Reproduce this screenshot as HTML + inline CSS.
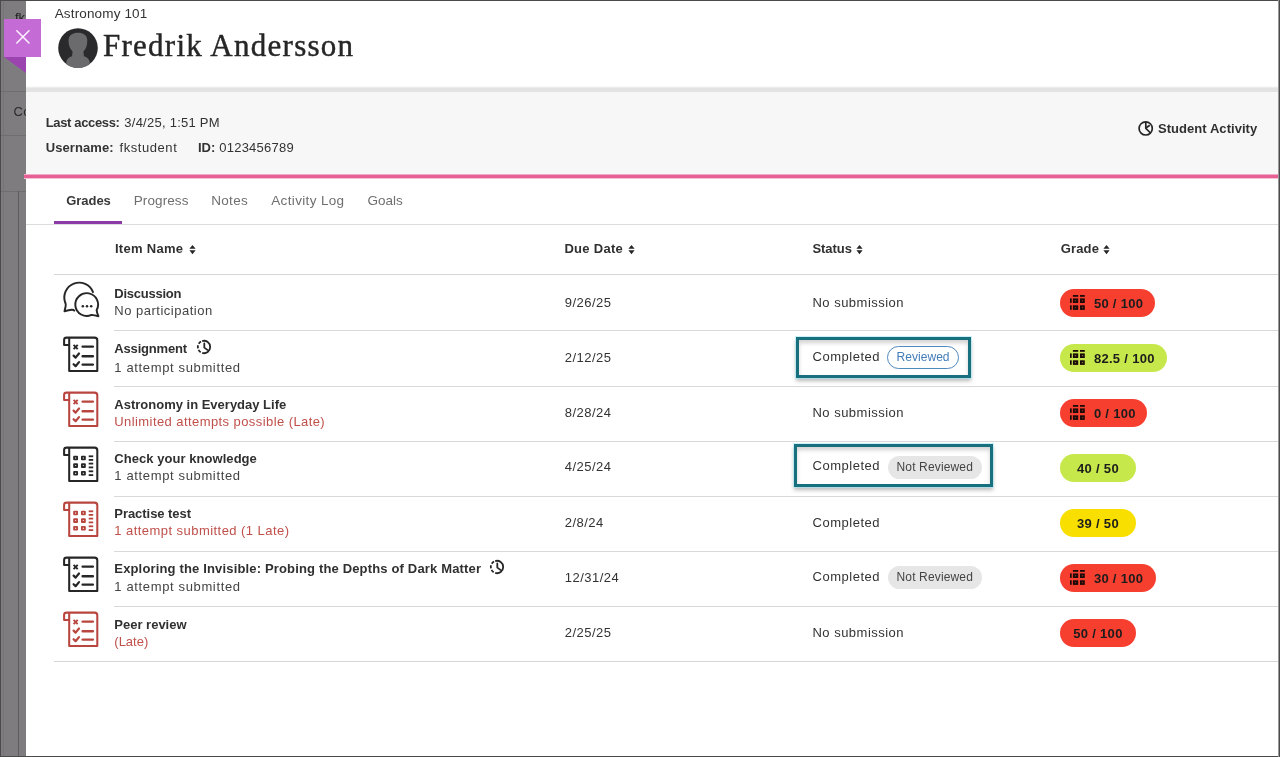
<!DOCTYPE html>
<html><head><meta charset="utf-8"><title>Grades</title>
<style>
html,body{margin:0;padding:0;}
body{width:1280px;height:757px;position:relative;overflow:hidden;background:#fff;font-family:'Liberation Sans', sans-serif;}
.t{position:absolute;white-space:nowrap;}
#w{position:absolute;left:0;top:0;width:1280px;height:757px;will-change:transform;}
</style></head><body><div id="w">
<div style="position:absolute;left:0;top:0;width:26px;height:757px;background:#7f7c80"></div>
<div style="position:absolute;left:3px;top:0;width:1px;height:757px;background:#777478"></div>
<div style="position:absolute;left:0;top:91px;width:26px;height:1px;background:#6e6e6e"></div>
<div style="position:absolute;left:0;top:135px;width:26px;height:1px;background:#6e6e6e"></div>
<div style="position:absolute;left:0;top:191px;width:26px;height:1px;background:#6e6e6e"></div>
<div style="position:absolute;left:18px;top:191px;width:1px;height:566px;background:#5c5c5c"></div>
<div class="t" style="left:15.00px;top:11.00px;font-size:13px;line-height:13px;font-weight:normal;color:#1e1e1e;letter-spacing:0px;font-family:'Liberation Sans', sans-serif;">fk</div>
<div class="t" style="left:13.50px;top:105.00px;font-size:13px;line-height:13px;font-weight:normal;color:#2a2a2a;letter-spacing:0.3px;font-family:'Liberation Sans', sans-serif;">Co</div>
<div style="position:absolute;left:26px;top:0;width:1254px;height:757px;background:#fff"></div>
<div style="position:absolute;left:26px;top:86px;width:1254px;height:1px;background:#fafafa"></div>
<div style="position:absolute;left:26px;top:87px;width:1254px;height:1px;background:#ececec"></div>
<div style="position:absolute;left:26px;top:88px;width:1254px;height:4px;background:#e3e3e3"></div>
<div style="position:absolute;left:26px;top:92px;width:1254px;height:83px;background:#f7f7f7"></div>
<div style="position:absolute;left:24px;top:174px;width:1256px;height:1px;background:#f2a9c6"></div>
<div style="position:absolute;left:24px;top:175px;width:1256px;height:3px;background:#e76093"></div>
<div style="position:absolute;left:24px;top:178px;width:1256px;height:1px;background:#f4c3d6"></div>
<div class="t" style="left:54.70px;top:7.07px;font-size:13.5px;line-height:13.5px;font-weight:normal;color:#333;letter-spacing:0.15px;font-family:'Liberation Sans', sans-serif;">Astronomy 101</div>
<svg style="position:absolute;left:58px;top:28px" width="40" height="40" viewBox="0 0 40 40">
<circle cx="20" cy="20" r="19.8" fill="#2a292b"/>
<clipPath id="av"><circle cx="20" cy="20" r="20"/></clipPath>
<g clip-path="url(#av)" fill="#6b6a6c">
<path d="M14.6 23.5 C11.5 20.5 10.2 16 10.6 11.5 C11.2 7 14.8 4.8 20 4.8 C25.2 4.8 28.6 7 29.2 11.5 C29.6 16 28.4 20.5 25.4 23.5 L26 28.2 C29 29.2 31 30.8 31.6 33.5 L31.6 42 L8.4 42 L8.4 33.5 C9 30.8 11 29.2 14 28.2 Z"/>
</g></svg>
<div class="t" style="left:102.90px;top:29.64px;font-size:31px;line-height:31px;font-weight:normal;color:#262626;letter-spacing:1.27px;font-family:'Liberation Serif', serif;-webkit-text-stroke:0.45px #262626;">Fredrik Andersson</div>
<div class="t" style="left:45.70px;top:115.70px;font-size:13px;line-height:13px;font-weight:bold;color:#333;letter-spacing:-0.35px;font-family:'Liberation Sans', sans-serif;">Last access:</div>
<div class="t" style="left:124.30px;top:115.70px;font-size:13px;line-height:13px;font-weight:normal;color:#333;letter-spacing:0.25px;font-family:'Liberation Sans', sans-serif;">3/4/25, 1:51 PM</div>
<div class="t" style="left:45.70px;top:140.60px;font-size:13px;line-height:13px;font-weight:bold;color:#333;letter-spacing:0.1px;font-family:'Liberation Sans', sans-serif;">Username:</div>
<div class="t" style="left:119.60px;top:140.60px;font-size:13px;line-height:13px;font-weight:normal;color:#333;letter-spacing:0.55px;font-family:'Liberation Sans', sans-serif;">fkstudent</div>
<div class="t" style="left:198.00px;top:140.60px;font-size:13px;line-height:13px;font-weight:bold;color:#333;letter-spacing:0px;font-family:'Liberation Sans', sans-serif;">ID:</div>
<div class="t" style="left:219.20px;top:140.60px;font-size:13px;line-height:13px;font-weight:normal;color:#333;letter-spacing:0.25px;font-family:'Liberation Sans', sans-serif;">0123456789</div>
<svg style="position:absolute;left:1136px;top:119px" width="20" height="20" viewBox="1136 119 20 20" fill="none" stroke="#262626" stroke-width="1.7">
<circle cx="1145.7" cy="128.4" r="6.6"/>
<path d="M1145.8 121.8 V128.3 L1150.6 133" stroke-linejoin="round"/>
<path d="M1145.8 128 L1149.8 125.2"/>
</svg>
<div class="t" style="left:1158.00px;top:122.40px;font-size:13px;line-height:13px;font-weight:bold;color:#303030;letter-spacing:0.05px;font-family:'Liberation Sans', sans-serif;">Student Activity</div>
<div class="t" style="left:66.25px;top:194.40px;font-size:13px;line-height:13px;font-weight:bold;color:#383838;letter-spacing:-0.05px;font-family:'Liberation Sans', sans-serif;">Grades</div>
<div class="t" style="left:133.75px;top:193.97px;font-size:13.5px;line-height:13.5px;font-weight:normal;color:#6f6f6f;letter-spacing:0.1px;font-family:'Liberation Sans', sans-serif;">Progress</div>
<div class="t" style="left:211.25px;top:193.97px;font-size:13.5px;line-height:13.5px;font-weight:normal;color:#6f6f6f;letter-spacing:0.3px;font-family:'Liberation Sans', sans-serif;">Notes</div>
<div class="t" style="left:271.25px;top:193.97px;font-size:13.5px;line-height:13.5px;font-weight:normal;color:#6f6f6f;letter-spacing:0.35px;font-family:'Liberation Sans', sans-serif;">Activity Log</div>
<div class="t" style="left:367.50px;top:193.97px;font-size:13.5px;line-height:13.5px;font-weight:normal;color:#6f6f6f;letter-spacing:0.0px;font-family:'Liberation Sans', sans-serif;">Goals</div>
<div style="position:absolute;left:26px;top:224px;width:1253px;height:1px;background:#dcdcdc"></div>
<div style="position:absolute;left:54px;top:221px;width:68px;height:3px;background:#8c3aa8"></div>
<div class="t" style="left:114.90px;top:242.30px;font-size:13px;line-height:13px;font-weight:bold;color:#303030;letter-spacing:0.3px;font-family:'Liberation Sans', sans-serif;">Item Name</div>
<svg style="position:absolute;left:188.6px;top:244.3px" width="8" height="11" viewBox="0 0 8 11"><path d="M0.4 4.8 L3.5 0.9 L6.6 4.8 Z M0.4 6.2 L3.5 10.2 L6.6 6.2 Z" fill="#262626"/></svg>
<div class="t" style="left:564.40px;top:242.30px;font-size:13px;line-height:13px;font-weight:bold;color:#303030;letter-spacing:0.3px;font-family:'Liberation Sans', sans-serif;">Due Date</div>
<svg style="position:absolute;left:627.5px;top:244.3px" width="8" height="11" viewBox="0 0 8 11"><path d="M0.4 4.8 L3.5 0.9 L6.6 4.8 Z M0.4 6.2 L3.5 10.2 L6.6 6.2 Z" fill="#262626"/></svg>
<div class="t" style="left:812.40px;top:242.30px;font-size:13px;line-height:13px;font-weight:bold;color:#303030;letter-spacing:-0.05px;font-family:'Liberation Sans', sans-serif;">Status</div>
<svg style="position:absolute;left:855.5px;top:244.3px" width="8" height="11" viewBox="0 0 8 11"><path d="M0.4 4.8 L3.5 0.9 L6.6 4.8 Z M0.4 6.2 L3.5 10.2 L6.6 6.2 Z" fill="#262626"/></svg>
<div class="t" style="left:1060.70px;top:242.30px;font-size:13px;line-height:13px;font-weight:bold;color:#303030;letter-spacing:0.15px;font-family:'Liberation Sans', sans-serif;">Grade</div>
<svg style="position:absolute;left:1102.6px;top:244.3px" width="8" height="11" viewBox="0 0 8 11"><path d="M0.4 4.8 L3.5 0.9 L6.6 4.8 Z M0.4 6.2 L3.5 10.2 L6.6 6.2 Z" fill="#262626"/></svg>
<div style="position:absolute;left:54px;top:274px;width:1225px;height:1px;background:#d6d6d6"></div>
<div style="position:absolute;left:114px;top:330px;width:1165px;height:1px;background:#d9d9d9"></div>
<div style="position:absolute;left:114px;top:386px;width:1165px;height:1px;background:#d9d9d9"></div>
<div style="position:absolute;left:114px;top:441px;width:1165px;height:1px;background:#d9d9d9"></div>
<div style="position:absolute;left:114px;top:496px;width:1165px;height:1px;background:#d9d9d9"></div>
<div style="position:absolute;left:114px;top:551px;width:1165px;height:1px;background:#d9d9d9"></div>
<div style="position:absolute;left:114px;top:606px;width:1165px;height:1px;background:#d9d9d9"></div>
<div style="position:absolute;left:54px;top:661px;width:1225px;height:1px;background:#d6d6d6"></div>
<svg style="position:absolute;left:58px;top:278px" width="46" height="46" viewBox="0 0 46 46" fill="none" stroke="#262626" stroke-width="1.95" stroke-linecap="round" stroke-linejoin="round"><path d="M35 14.2 A14.6 14.6 0 1 0 7.3 24.8 Q8.2 26.5 7.6 28.5 L6.5 33.2 Q11 32.2 13.6 31.8 Q15.4 31.6 16.3 32.6"/><path d="M38.6 32.2 A11.4 11.4 0 1 0 33.5 36.9 Q36.5 37.4 40.4 38.2 Q39 35.2 38.6 32.2 Z"/><circle cx="24.8" cy="28.3" r="1.25" fill="#262626" stroke="none"/><circle cx="29" cy="28.3" r="1.25" fill="#262626" stroke="none"/><circle cx="33.2" cy="28.3" r="1.25" fill="#262626" stroke="none"/></svg>
<div class="t" style="left:114.30px;top:287.20px;font-size:13px;line-height:13px;font-weight:bold;color:#303030;letter-spacing:-0.25px;font-family:'Liberation Sans', sans-serif;">Discussion</div>
<div class="t" style="left:114.30px;top:304.20px;font-size:13px;line-height:13px;font-weight:normal;color:#444;letter-spacing:0.5px;font-family:'Liberation Sans', sans-serif;">No participation</div>
<div class="t" style="left:564.70px;top:296.20px;font-size:13px;line-height:13px;font-weight:normal;color:#333;letter-spacing:0.5px;font-family:'Liberation Sans', sans-serif;">9/26/25</div>
<div class="t" style="left:812.50px;top:296.20px;font-size:13px;line-height:13px;font-weight:normal;color:#333;letter-spacing:0.48px;font-family:'Liberation Sans', sans-serif;">No submission</div>
<div style="position:absolute;left:1060px;top:289px;width:95px;height:28px;border-radius:14px;background:#f73f30"></div><svg style="position:absolute;left:1070.2px;top:295px" width="16" height="16" viewBox="0 0 16 16" fill="#1a0a08"><rect x="2.9" y="0" width="5.3" height="1.8"/><rect x="10" y="0" width="4.8" height="1.8"/><rect x="0" y="3.4" width="1.7" height="4.5"/><rect x="0" y="10.3" width="1.7" height="4.5"/><rect x="2.9" y="3.4" width="5.3" height="4.6"/><rect x="4.8" y="5.1" width="1.3" height="1.2" fill="#f73f30" opacity="0.55"/><rect x="10" y="3.4" width="4.8" height="4.6"/><rect x="11.9" y="5.1" width="1.3" height="1.2" fill="#f73f30" opacity="0.55"/><rect x="2.9" y="10.3" width="5.3" height="4.6"/><rect x="4.8" y="12.0" width="1.3" height="1.2" fill="#f73f30" opacity="0.55"/><rect x="10" y="10.3" width="4.8" height="4.6"/><rect x="11.9" y="12.0" width="1.3" height="1.2" fill="#f73f30" opacity="0.55"/></svg><div class="t" style="left:1093.90px;top:297.30px;font-size:13px;line-height:13px;font-weight:bold;color:#1c1c1c;letter-spacing:0.3px;font-family:'Liberation Sans', sans-serif;">50 / 100</div>
<svg style="position:absolute;left:58px;top:332px" width="46" height="46" viewBox="0 0 46 46" fill="none" stroke="#262626" stroke-width="2.05" stroke-linecap="round" stroke-linejoin="round"><path d="M11.2 5.8 V38.9 H39.3 V8.3 Q39.3 5.6 36.6 5.6 H8.6 Q6.1 5.6 6.1 8 V12.9 H11.2"/><path d="M15.6 12.9 L19.7 17.2 M19.7 12.9 L15.6 17.2" stroke-width="1.9" stroke-linecap="butt"/><path d="M15.6 23.6 L17.6 25.6 L21 21.5" stroke-width="2.2"/><path d="M15.6 32.2 L17.6 34.2 L21 30.1" stroke-width="2.2"/><path d="M24.6 14.6 H34.9 M24.6 24.2 H34.9 M24.6 32.6 H34.9" stroke-width="2.4"/></svg>
<div class="t" style="left:114.30px;top:341.90px;font-size:13px;line-height:13px;font-weight:bold;color:#303030;letter-spacing:-0.17px;font-family:'Liberation Sans', sans-serif;">Assignment</div>
<div class="t" style="left:114.30px;top:360.90px;font-size:13px;line-height:13px;font-weight:normal;color:#444;letter-spacing:0.64px;font-family:'Liberation Sans', sans-serif;">1 attempt submitted</div>
<svg style="position:absolute;left:195.0px;top:337.7px" width="18" height="18" viewBox="195.0 337.7 18 18" fill="none" stroke="#262626" stroke-width="1.8" stroke-linecap="butt"><path d="M202.19 340.77 A6.2 6.2 0 1 1 202.19 352.63 M200.71 351.96 A6.2 6.2 0 0 1 198.53 349.61 M197.96 348.09 A6.2 6.2 0 0 1 198.07 344.89 M198.74 343.41 A6.2 6.2 0 0 1 201.09 341.23"/><path d="M204.3 343.09999999999997 V347.3 L207.4 349.59999999999997" stroke-linecap="round" stroke-linejoin="round"/></svg>
<div class="t" style="left:564.70px;top:350.90px;font-size:13px;line-height:13px;font-weight:normal;color:#333;letter-spacing:0.5px;font-family:'Liberation Sans', sans-serif;">2/12/25</div>
<div class="t" style="left:812.50px;top:349.90px;font-size:13px;line-height:13px;font-weight:normal;color:#333;letter-spacing:0.52px;font-family:'Liberation Sans', sans-serif;">Completed</div>
<div style="position:absolute;left:796px;top:337px;width:169px;height:35px;border:3px solid #18707e;box-shadow:0 0 0 1px rgba(170,235,245,0.6),0 3px 4px rgba(0,0,0,0.28),inset 0 3px 4px rgba(0,0,0,0.18)"></div>
<div style="position:absolute;left:887px;top:346px;width:70px;height:21px;border:1px solid #5088c0;border-radius:12px;background:#fff"></div>
<div class="t" style="left:896.50px;top:351.34px;font-size:12px;line-height:12px;font-weight:normal;color:#417db8;letter-spacing:0.05px;font-family:'Liberation Sans', sans-serif;">Reviewed</div>
<div style="position:absolute;left:1060px;top:344px;width:107px;height:28px;border-radius:14px;background:#c6e84a"></div><svg style="position:absolute;left:1070.2px;top:350px" width="16" height="16" viewBox="0 0 16 16" fill="#1a0a08"><rect x="2.9" y="0" width="5.3" height="1.8"/><rect x="10" y="0" width="4.8" height="1.8"/><rect x="0" y="3.4" width="1.7" height="4.5"/><rect x="0" y="10.3" width="1.7" height="4.5"/><rect x="2.9" y="3.4" width="5.3" height="4.6"/><rect x="4.8" y="5.1" width="1.3" height="1.2" fill="#c6e84a" opacity="0.55"/><rect x="10" y="3.4" width="4.8" height="4.6"/><rect x="11.9" y="5.1" width="1.3" height="1.2" fill="#c6e84a" opacity="0.55"/><rect x="2.9" y="10.3" width="5.3" height="4.6"/><rect x="4.8" y="12.0" width="1.3" height="1.2" fill="#c6e84a" opacity="0.55"/><rect x="10" y="10.3" width="4.8" height="4.6"/><rect x="11.9" y="12.0" width="1.3" height="1.2" fill="#c6e84a" opacity="0.55"/></svg><div class="t" style="left:1093.90px;top:352.30px;font-size:13px;line-height:13px;font-weight:bold;color:#1c1c1c;letter-spacing:0.3px;font-family:'Liberation Sans', sans-serif;">82.5 / 100</div>
<svg style="position:absolute;left:58px;top:387px" width="46" height="46" viewBox="0 0 46 46" fill="none" stroke="#b8463f" stroke-width="2.05" stroke-linecap="round" stroke-linejoin="round"><path d="M11.2 5.8 V38.9 H39.3 V8.3 Q39.3 5.6 36.6 5.6 H8.6 Q6.1 5.6 6.1 8 V12.9 H11.2"/><path d="M15.6 12.9 L19.7 17.2 M19.7 12.9 L15.6 17.2" stroke-width="1.9" stroke-linecap="butt"/><path d="M15.6 23.6 L17.6 25.6 L21 21.5" stroke-width="2.2"/><path d="M15.6 32.2 L17.6 34.2 L21 30.1" stroke-width="2.2"/><path d="M24.6 14.6 H34.9 M24.6 24.2 H34.9 M24.6 32.6 H34.9" stroke-width="2.4"/></svg>
<div class="t" style="left:114.30px;top:397.60px;font-size:13px;line-height:13px;font-weight:bold;color:#303030;letter-spacing:0.0px;font-family:'Liberation Sans', sans-serif;">Astronomy in Everyday Life</div>
<div class="t" style="left:114.30px;top:414.70px;font-size:13px;line-height:13px;font-weight:normal;color:#c0504b;letter-spacing:0.42px;font-family:'Liberation Sans', sans-serif;">Unlimited attempts possible (Late)</div>
<div class="t" style="left:564.70px;top:405.60px;font-size:13px;line-height:13px;font-weight:normal;color:#333;letter-spacing:0.5px;font-family:'Liberation Sans', sans-serif;">8/28/24</div>
<div class="t" style="left:812.50px;top:405.60px;font-size:13px;line-height:13px;font-weight:normal;color:#333;letter-spacing:0.48px;font-family:'Liberation Sans', sans-serif;">No submission</div>
<div style="position:absolute;left:1060px;top:399px;width:87px;height:28px;border-radius:14px;background:#f73f30"></div><svg style="position:absolute;left:1070.2px;top:405px" width="16" height="16" viewBox="0 0 16 16" fill="#1a0a08"><rect x="2.9" y="0" width="5.3" height="1.8"/><rect x="10" y="0" width="4.8" height="1.8"/><rect x="0" y="3.4" width="1.7" height="4.5"/><rect x="0" y="10.3" width="1.7" height="4.5"/><rect x="2.9" y="3.4" width="5.3" height="4.6"/><rect x="4.8" y="5.1" width="1.3" height="1.2" fill="#f73f30" opacity="0.55"/><rect x="10" y="3.4" width="4.8" height="4.6"/><rect x="11.9" y="5.1" width="1.3" height="1.2" fill="#f73f30" opacity="0.55"/><rect x="2.9" y="10.3" width="5.3" height="4.6"/><rect x="4.8" y="12.0" width="1.3" height="1.2" fill="#f73f30" opacity="0.55"/><rect x="10" y="10.3" width="4.8" height="4.6"/><rect x="11.9" y="12.0" width="1.3" height="1.2" fill="#f73f30" opacity="0.55"/></svg><div class="t" style="left:1093.90px;top:407.30px;font-size:13px;line-height:13px;font-weight:bold;color:#1c1c1c;letter-spacing:0.3px;font-family:'Liberation Sans', sans-serif;">0 / 100</div>
<svg style="position:absolute;left:58px;top:442px" width="46" height="46" viewBox="0 0 46 46" fill="none" stroke="#262626" stroke-width="2.05" stroke-linecap="round" stroke-linejoin="round"><path d="M11.2 5.8 V38.9 H39.3 V8.3 Q39.3 5.6 36.6 5.6 H8.6 Q6.1 5.6 6.1 8 V12.9 H11.2"/><rect x="16.1" y="14.6" width="3.0" height="2.8" rx="0.1" stroke-width="1.85"/><rect x="16.1" y="22.2" width="3.0" height="2.8" rx="0.1" stroke-width="1.85"/><rect x="16.1" y="29.8" width="3.0" height="2.8" rx="0.1" stroke-width="1.85"/><rect x="23.9" y="14.6" width="3.0" height="2.8" rx="0.1" stroke-width="1.85"/><rect x="23.9" y="22.2" width="3.0" height="2.8" rx="0.1" stroke-width="1.85"/><rect x="23.9" y="29.8" width="3.0" height="2.8" rx="0.1" stroke-width="1.85"/><path d="M30.7 14.3 H35.2" stroke-width="1.8" stroke-linecap="butt"/><path d="M30.7 17.9 H35.2" stroke-width="1.8" stroke-linecap="butt"/><path d="M30.7 21.6 H35.2" stroke-width="1.8" stroke-linecap="butt"/><path d="M30.7 25.4 H35.2" stroke-width="1.8" stroke-linecap="butt"/><path d="M30.7 29.3 H35.2" stroke-width="1.8" stroke-linecap="butt"/><path d="M30.7 33.1 H35.2" stroke-width="1.8" stroke-linecap="butt"/></svg>
<div class="t" style="left:114.30px;top:451.80px;font-size:13px;line-height:13px;font-weight:bold;color:#303030;letter-spacing:0.05px;font-family:'Liberation Sans', sans-serif;">Check your knowledge</div>
<div class="t" style="left:114.30px;top:469.00px;font-size:13px;line-height:13px;font-weight:normal;color:#444;letter-spacing:0.64px;font-family:'Liberation Sans', sans-serif;">1 attempt submitted</div>
<div class="t" style="left:564.70px;top:460.30px;font-size:13px;line-height:13px;font-weight:normal;color:#333;letter-spacing:0.5px;font-family:'Liberation Sans', sans-serif;">4/25/24</div>
<div class="t" style="left:812.50px;top:459.30px;font-size:13px;line-height:13px;font-weight:normal;color:#333;letter-spacing:0.52px;font-family:'Liberation Sans', sans-serif;">Completed</div>
<div style="position:absolute;left:793.5px;top:444px;width:193px;height:37px;border:3px solid #18707e;box-shadow:0 0 0 1px rgba(170,235,245,0.6),0 3px 4px rgba(0,0,0,0.28),inset 0 3px 4px rgba(0,0,0,0.18)"></div>
<div style="position:absolute;left:888px;top:456px;width:94px;height:23px;border-radius:12px;background:#e6e6e6"></div>
<div class="t" style="left:896.50px;top:461.14px;font-size:12px;line-height:12px;font-weight:normal;color:#444;letter-spacing:0.15px;font-family:'Liberation Sans', sans-serif;">Not Reviewed</div>
<div style="position:absolute;left:1060px;top:454px;width:76px;height:28px;border-radius:14px;background:#c6e84a"></div><div class="t" style="left:1060px;width:76px;text-align:center;top:462.30px;font-size:13px;line-height:13px;font-weight:bold;color:#1c1c1c;letter-spacing:0.3px">40 / 50</div>
<svg style="position:absolute;left:58px;top:497px" width="46" height="46" viewBox="0 0 46 46" fill="none" stroke="#b8463f" stroke-width="2.05" stroke-linecap="round" stroke-linejoin="round"><path d="M11.2 5.8 V38.9 H39.3 V8.3 Q39.3 5.6 36.6 5.6 H8.6 Q6.1 5.6 6.1 8 V12.9 H11.2"/><rect x="16.1" y="14.6" width="3.0" height="2.8" rx="0.1" stroke-width="1.85"/><rect x="16.1" y="22.2" width="3.0" height="2.8" rx="0.1" stroke-width="1.85"/><rect x="16.1" y="29.8" width="3.0" height="2.8" rx="0.1" stroke-width="1.85"/><rect x="23.9" y="14.6" width="3.0" height="2.8" rx="0.1" stroke-width="1.85"/><rect x="23.9" y="22.2" width="3.0" height="2.8" rx="0.1" stroke-width="1.85"/><rect x="23.9" y="29.8" width="3.0" height="2.8" rx="0.1" stroke-width="1.85"/><path d="M30.7 14.3 H35.2" stroke-width="1.8" stroke-linecap="butt"/><path d="M30.7 17.9 H35.2" stroke-width="1.8" stroke-linecap="butt"/><path d="M30.7 21.6 H35.2" stroke-width="1.8" stroke-linecap="butt"/><path d="M30.7 25.4 H35.2" stroke-width="1.8" stroke-linecap="butt"/><path d="M30.7 29.3 H35.2" stroke-width="1.8" stroke-linecap="butt"/><path d="M30.7 33.1 H35.2" stroke-width="1.8" stroke-linecap="butt"/></svg>
<div class="t" style="left:114.30px;top:506.80px;font-size:13px;line-height:13px;font-weight:bold;color:#303030;letter-spacing:-0.05px;font-family:'Liberation Sans', sans-serif;">Practise test</div>
<div class="t" style="left:114.30px;top:523.80px;font-size:13px;line-height:13px;font-weight:normal;color:#c0504b;letter-spacing:0.45px;font-family:'Liberation Sans', sans-serif;">1 attempt submitted (1 Late)</div>
<div class="t" style="left:564.70px;top:515.80px;font-size:13px;line-height:13px;font-weight:normal;color:#333;letter-spacing:0.5px;font-family:'Liberation Sans', sans-serif;">2/8/24</div>
<div class="t" style="left:812.50px;top:515.80px;font-size:13px;line-height:13px;font-weight:normal;color:#333;letter-spacing:0.52px;font-family:'Liberation Sans', sans-serif;">Completed</div>
<div style="position:absolute;left:1060px;top:509px;width:76px;height:28px;border-radius:14px;background:#f8df00"></div><div class="t" style="left:1060px;width:76px;text-align:center;top:517.30px;font-size:13px;line-height:13px;font-weight:bold;color:#1c1c1c;letter-spacing:0.3px">39 / 50</div>
<svg style="position:absolute;left:58px;top:552px" width="46" height="46" viewBox="0 0 46 46" fill="none" stroke="#262626" stroke-width="2.05" stroke-linecap="round" stroke-linejoin="round"><path d="M11.2 5.8 V38.9 H39.3 V8.3 Q39.3 5.6 36.6 5.6 H8.6 Q6.1 5.6 6.1 8 V12.9 H11.2"/><path d="M15.6 12.9 L19.7 17.2 M19.7 12.9 L15.6 17.2" stroke-width="1.9" stroke-linecap="butt"/><path d="M15.6 23.6 L17.6 25.6 L21 21.5" stroke-width="2.2"/><path d="M15.6 32.2 L17.6 34.2 L21 30.1" stroke-width="2.2"/><path d="M24.6 14.6 H34.9 M24.6 24.2 H34.9 M24.6 32.6 H34.9" stroke-width="2.4"/></svg>
<div class="t" style="left:114.30px;top:561.80px;font-size:13px;line-height:13px;font-weight:bold;color:#303030;letter-spacing:0.16px;font-family:'Liberation Sans', sans-serif;">Exploring the Invisible: Probing the Depths of Dark Matter</div>
<div class="t" style="left:114.30px;top:580.30px;font-size:13px;line-height:13px;font-weight:normal;color:#444;letter-spacing:0.64px;font-family:'Liberation Sans', sans-serif;">1 attempt submitted</div>
<svg style="position:absolute;left:488.3px;top:557.8px" width="18" height="18" viewBox="488.3 557.8 18 18" fill="none" stroke="#262626" stroke-width="1.8" stroke-linecap="butt"><path d="M495.49 560.87 A6.2 6.2 0 1 1 495.49 572.73 M494.01 572.06 A6.2 6.2 0 0 1 491.83 569.71 M491.26 568.19 A6.2 6.2 0 0 1 491.37 564.99 M492.04 563.51 A6.2 6.2 0 0 1 494.39 561.33"/><path d="M497.6 563.1999999999999 V567.4 L500.7 569.6999999999999" stroke-linecap="round" stroke-linejoin="round"/></svg>
<div class="t" style="left:564.70px;top:571.00px;font-size:13px;line-height:13px;font-weight:normal;color:#333;letter-spacing:0.5px;font-family:'Liberation Sans', sans-serif;">12/31/24</div>
<div class="t" style="left:812.50px;top:569.50px;font-size:13px;line-height:13px;font-weight:normal;color:#333;letter-spacing:0.52px;font-family:'Liberation Sans', sans-serif;">Completed</div>
<div style="position:absolute;left:888px;top:566px;width:94px;height:23px;border-radius:12px;background:#e6e6e6"></div>
<div class="t" style="left:896.50px;top:571.14px;font-size:12px;line-height:12px;font-weight:normal;color:#444;letter-spacing:0.15px;font-family:'Liberation Sans', sans-serif;">Not Reviewed</div>
<div style="position:absolute;left:1060px;top:564px;width:96px;height:28px;border-radius:14px;background:#f73f30"></div><svg style="position:absolute;left:1070.2px;top:570px" width="16" height="16" viewBox="0 0 16 16" fill="#1a0a08"><rect x="2.9" y="0" width="5.3" height="1.8"/><rect x="10" y="0" width="4.8" height="1.8"/><rect x="0" y="3.4" width="1.7" height="4.5"/><rect x="0" y="10.3" width="1.7" height="4.5"/><rect x="2.9" y="3.4" width="5.3" height="4.6"/><rect x="4.8" y="5.1" width="1.3" height="1.2" fill="#f73f30" opacity="0.55"/><rect x="10" y="3.4" width="4.8" height="4.6"/><rect x="11.9" y="5.1" width="1.3" height="1.2" fill="#f73f30" opacity="0.55"/><rect x="2.9" y="10.3" width="5.3" height="4.6"/><rect x="4.8" y="12.0" width="1.3" height="1.2" fill="#f73f30" opacity="0.55"/><rect x="10" y="10.3" width="4.8" height="4.6"/><rect x="11.9" y="12.0" width="1.3" height="1.2" fill="#f73f30" opacity="0.55"/></svg><div class="t" style="left:1093.90px;top:572.30px;font-size:13px;line-height:13px;font-weight:bold;color:#1c1c1c;letter-spacing:0.3px;font-family:'Liberation Sans', sans-serif;">30 / 100</div>
<svg style="position:absolute;left:58px;top:607px" width="46" height="46" viewBox="0 0 46 46" fill="none" stroke="#b8463f" stroke-width="2.05" stroke-linecap="round" stroke-linejoin="round"><path d="M11.2 5.8 V38.9 H39.3 V8.3 Q39.3 5.6 36.6 5.6 H8.6 Q6.1 5.6 6.1 8 V12.9 H11.2"/><path d="M15.6 12.9 L19.7 17.2 M19.7 12.9 L15.6 17.2" stroke-width="1.9" stroke-linecap="butt"/><path d="M15.6 23.6 L17.6 25.6 L21 21.5" stroke-width="2.2"/><path d="M15.6 32.2 L17.6 34.2 L21 30.1" stroke-width="2.2"/><path d="M24.6 14.6 H34.9 M24.6 24.2 H34.9 M24.6 32.6 H34.9" stroke-width="2.4"/></svg>
<div class="t" style="left:114.30px;top:617.70px;font-size:13px;line-height:13px;font-weight:bold;color:#303030;letter-spacing:0.0px;font-family:'Liberation Sans', sans-serif;">Peer review</div>
<div class="t" style="left:114.30px;top:634.50px;font-size:13px;line-height:13px;font-weight:normal;color:#c0504b;letter-spacing:0.0px;font-family:'Liberation Sans', sans-serif;">(Late)</div>
<div class="t" style="left:564.70px;top:625.80px;font-size:13px;line-height:13px;font-weight:normal;color:#333;letter-spacing:0.5px;font-family:'Liberation Sans', sans-serif;">2/25/25</div>
<div class="t" style="left:812.50px;top:625.80px;font-size:13px;line-height:13px;font-weight:normal;color:#333;letter-spacing:0.48px;font-family:'Liberation Sans', sans-serif;">No submission</div>
<div style="position:absolute;left:1060px;top:619px;width:76px;height:28px;border-radius:14px;background:#f73f30"></div><div class="t" style="left:1060px;width:76px;text-align:center;top:627.30px;font-size:13px;line-height:13px;font-weight:bold;color:#1c1c1c;letter-spacing:0.3px">50 / 100</div>
<div style="position:absolute;left:0;top:0;width:1280px;height:1px;background:#4a4a4a"></div>
<div style="position:absolute;left:0;top:756px;width:1280px;height:1px;background:#4a4a4a"></div>
<div style="position:absolute;left:0;top:0;width:1px;height:757px;background:#4a4a4a"></div>
<div style="position:absolute;left:1278px;top:0;width:1px;height:757px;background:#9a9a9a"></div>
<div style="position:absolute;left:1279px;top:0;width:1px;height:757px;background:#4a4a4a"></div>
<div style="position:absolute;left:4px;top:19px;width:37px;height:38px;background:#c56bd6"></div>
<svg style="position:absolute;left:4px;top:57px" width="22" height="16" viewBox="0 0 22 16"><path d="M0 0 H22 V16 Z" fill="#9b44b0"/></svg>
<svg style="position:absolute;left:15px;top:29px" width="16" height="16" viewBox="0 0 16 16"><path d="M1.8 1.8 L14 14 M14 1.8 L1.8 14" stroke="#fdf3ff" stroke-width="1.5" stroke-linecap="round"/></svg>
</div></body></html>
